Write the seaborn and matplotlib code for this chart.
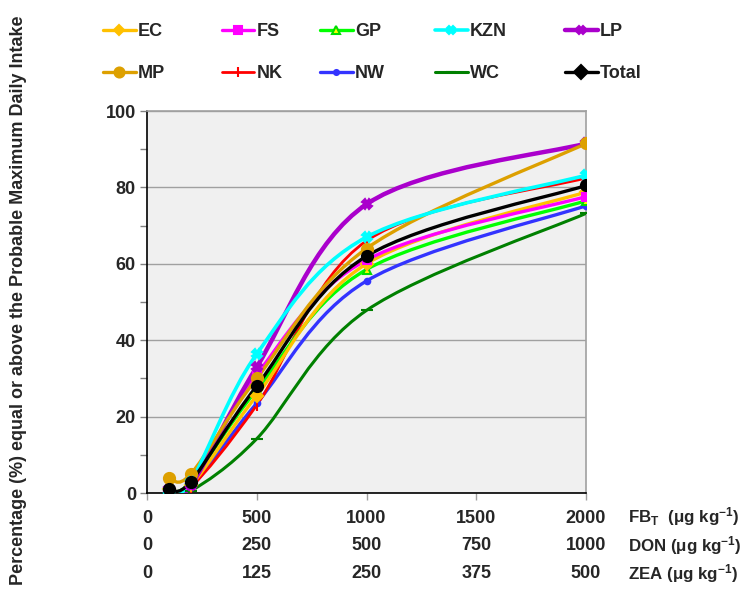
import numpy as np
import pandas as pd
import matplotlib
matplotlib.use("Agg")
import matplotlib.pyplot as plt
import seaborn as sns
from matplotlib.path import Path
from matplotlib.patches import PathPatch
from matplotlib.lines import Line2D
import matplotlib.transforms as mtransforms

# ---- data ----
fbt_levels = [100, 200, 500, 1000, 2000]
EC = [1.0, 2.0, 25.5, 60.0, 78.8]
FS = [0.0, 2.0, 31.0, 61.0, 77.6]
GP = [0.5, 3.0, 27.0, 58.5, 76.5]
KZN = [0.5, 3.0, 36.4, 67.0, 83.2]
LP = [1.0, 2.0, 33.0, 75.6, 91.5]
MP = [4.0, 5.0, 30.0, 64.0, 91.5]
NK = [0.5, 1.5, 23.0, 66.0, 82.5]
NW = [0.5, 1.5, 23.5, 55.5, 75.2]
WC = [0.0, 0.5, 14.2, 47.8, 73.2]
Total = [1.0, 3.0, 28.0, 62.0, 80.5]

series_names = ["EC", "FS", "GP", "KZN", "LP", "MP", "NK", "NW", "WC", "Total"]
series_values = [EC, FS, GP, KZN, LP, MP, NK, NW, WC, Total]

fbt_ticks = [0, 500, 1000, 1500, 2000]
fbt_labels = ["0", "500", "1000", "1500", "2000"]
don_labels = ["0", "250", "500", "750", "1000"]
zea_labels = ["0", "125", "250", "375", "500"]
y_ticks = [0, 20, 40, 60, 80, 100]

# ---- styles ----
styles = {
    "EC":    dict(color="#FFC000", marker="D", ms=6, mfc="#FFC000", mec="#FFC000", lw=2.4),
    "FS":    dict(color="#FF00FF", marker="s", ms=6, mfc="#FF00FF", mec="#FF00FF", lw=2.4),
    "GP":    dict(color="#00FF00", marker="^", ms=6, mfc="#FFFF00", mec="#00DD00", lw=2.4),
    "KZN":   dict(color="#00FFFF", marker="X", ms=7, mfc="#00FFFF", mec="#00FFFF", lw=2.6),
    "LP":    dict(color="#AA00CC", marker="X", ms=7, mfc="#AA00CC", mec="#AA00CC", lw=3.2),
    "MP":    dict(color="#DDA000", marker="o", ms=8, mfc="#DDA000", mec="#DDA000", lw=2.4),
    "NK":    dict(color="#FF0000", marker="|", ms=8, mfc="#FF0000", mec="#FF0000", lw=2.0),
    "NW":    dict(color="#3333FF", marker="o", ms=4, mfc="#3333FF", mec="#3333FF", lw=2.4),
    "WC":    dict(color="#008000", marker="_", ms=8, mfc="#008000", mec="#008000", lw=2.2),
    "Total": dict(color="#000000", marker="o", ms=8, mfc="#000000", mec="#000000", lw=2.4),
}

sns.set_theme(style="white")
plt.rcParams["font.family"] = ["Liberation Sans", "DejaVu Sans"]
plt.rcParams["mathtext.default"] = "regular"

fig = plt.figure(figsize=(7.47, 5.97), dpi=100)
ax = fig.add_axes([147 / 747, 1 - 493 / 597, (586 - 147) / 747, (493 - 111) / 597])
ax.set_facecolor("#F0F0F0")


def smooth_path(xs, ys):
    pts = np.column_stack([xs, ys]).astype(float)
    n = len(pts)
    verts = [pts[0]]
    codes = [Path.MOVETO]
    for i in range(n - 1):
        p0 = pts[i - 1] if i > 0 else pts[i]
        p1 = pts[i]
        p2 = pts[i + 1]
        p3 = pts[i + 2] if i + 2 < n else pts[i + 1]
        c1 = p1 + (p2 - p0) / 6.0
        c2 = p2 - (p3 - p1) / 6.0
        verts += [c1, c2, p2]
        codes += [Path.CURVE4] * 3
    return Path(verts, codes)


rows = []
for name, vals in zip(series_names, series_values):
    for xv, yv in zip(fbt_levels, vals):
        rows.append(dict(series=name, x=xv, y=yv))
df = pd.DataFrame(rows)

draw_order = ["WC", "NW", "NK", "GP", "EC", "FS", "LP", "MP", "KZN", "Total"]
for z, name in enumerate(draw_order):
    st = styles[name]
    sub = df[df.series == name]
    patch = PathPatch(smooth_path(sub.x.values, sub.y.values), facecolor="none",
                      edgecolor=st["color"], lw=st["lw"], zorder=3 + z * 0.1,
                      capstyle="round", joinstyle="round")
    ax.add_patch(patch)
    sns.lineplot(data=sub, x="x", y="y", ax=ax, linestyle="", marker=st["marker"],
                 markersize=st["ms"], markerfacecolor=st["mfc"], markeredgecolor=st["mec"],
                 markeredgewidth=1.5, color=st["color"], zorder=4 + z * 0.1, legend=False)

FS_TXT = 13
ax.set_xlim(0, 2000)
ax.set_ylim(0, 100)
ax.set_xlabel("")
ax.set_ylabel("")
ax.set_yticks(y_ticks)
ax.set_yticklabels([str(t) for t in y_ticks], fontsize=FS_TXT, fontweight="bold")
ax.set_yticks([10, 30, 50, 70, 90], minor=True)
ax.set_xticks(fbt_ticks)
ax.set_xticklabels(fbt_labels, fontsize=FS_TXT, fontweight="bold")
ax.tick_params(axis="y", which="major", direction="out", length=5, width=1, color="#808080", pad=3, left=True)
ax.tick_params(axis="y", which="minor", direction="out", length=5, width=1, color="#808080", left=True)
ax.tick_params(axis="x", which="major", direction="out", length=5, width=1, color="#A0A0A0", pad=7, bottom=True)
ax.grid(axis="y", which="major", color="#A0A0A0", lw=1)
ax.grid(axis="x", visible=False)
ax.set_axisbelow(True)
for side in ["left", "bottom"]:
    ax.spines[side].set_color("black")
    ax.spines[side].set_linewidth(1.2)
for side in ["top", "right"]:
    ax.spines[side].set_color("#A0A0A0")
    ax.spines[side].set_linewidth(1.2)

trans = mtransforms.blended_transform_factory(ax.transData, ax.transAxes)
h_ax = (493 - 111)
for labs, ypix in [(don_labels, 546), (zea_labels, 574)]:
    yax = (493 - ypix) / h_ax
    for t, l in zip(fbt_ticks, labs):
        ax.text(t, yax, l, transform=trans, ha="center", va="center", fontsize=FS_TXT, fontweight="bold")

unit_x = (628 - 147) / (586 - 147)
for txt, ypix in [(r"FB$_T$  ($\mu$g kg$^{-1}$)", 517), (r"DON ($\mu$g kg$^{-1}$)", 546), (r"ZEA ($\mu$g kg$^{-1}$)", 574)]:
    ax.text(unit_x, (493 - ypix) / h_ax, txt, transform=ax.transAxes, ha="left", va="center",
            fontsize=12.2, fontweight="bold")

fig.text(19 / 747, 1 - 300 / 597, "Percentage (%) equal or above the Probable Maximum Daily Intake",
         rotation=90, ha="center", va="center", fontsize=FS_TXT, fontweight="bold")

# legend: one small legend per column
legend_cols = [["EC", "MP"], ["FS", "NK"], ["GP", "NW"], ["KZN", "WC"], ["LP", "Total"]]
col_x = [103, 222, 320, 435, 565]
for names, cx in zip(legend_cols, col_x):
    handles = []
    for name in names:
        st = styles[name]
        mk = "D" if name == "Total" else st["marker"]
        handles.append(Line2D([0], [0], color=st["color"], lw=st["lw"], marker=mk, markersize=st["ms"] * 0.9,
                              markerfacecolor=st["mfc"], markeredgecolor=st["mec"], markeredgewidth=1.5))
    leg = fig.legend(handles, names, loc="upper left", bbox_to_anchor=(cx / 747, 1 - 23 / 597),
                     frameon=False, prop=dict(size=FS_TXT, weight="bold"), handlelength=1.8,
                     handletextpad=0.15, labelspacing=1.4, borderpad=0, borderaxespad=0)

fig.savefig("out.png", dpi=100)
